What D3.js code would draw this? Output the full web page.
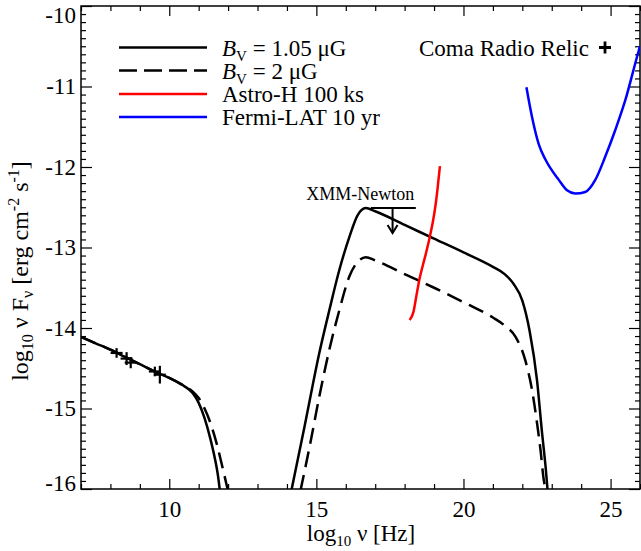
<!DOCTYPE html>
<html>
<head>
<meta charset="utf-8">
<script src="https://cdn.jsdelivr.net/npm/d3@7/dist/d3.min.js"></script>
<style>
  body { margin: 0; background: #fff; }
  svg { display: block; font-family: "Liberation Serif", "DejaVu Serif", serif; }
</style>
</head>
<body>
<svg id="chart" width="641" height="551"></svg>
<script>
// radio synchrotron part, B = 1.05 uG (solid)
var synSolidX = [7, 7.5, 8, 8.5, 9, 9.5, 10, 10.5, 10.8, 11.0, 11.2, 11.4, 11.55, 11.65, 11.72];
var synSolidY = [-14.11, -14.19, -14.27, -14.36, -14.45, -14.54, -14.62, -14.72, -14.81, -14.93, -15.12, -15.38, -15.62, -15.82, -16.02];

// radio synchrotron part, B = 2 uG (dashed)
var synDashX = [7, 7.5, 8, 8.5, 9, 9.5, 10, 10.5, 10.8, 11.0, 11.2, 11.4, 11.6, 11.75, 11.88, 12.0];
var synDashY = [-14.11, -14.19, -14.27, -14.36, -14.45, -14.54, -14.62, -14.72, -14.79, -14.87, -15.0, -15.18, -15.42, -15.64, -15.84, -16.03];

// inverse Compton part, B = 1.05 uG (solid)
var icSolidX = [14.15, 14.6, 15.1, 15.44, 15.78, 16.12, 16.4, 16.68, 17.0, 18.0, 19.0, 20.0, 21.0, 21.4, 21.7, 22.0, 22.25, 22.5, 22.67, 22.79, 22.86];
var icSolidY = [-16.02, -15.22, -14.31, -13.78, -13.28, -12.87, -12.6, -12.51, -12.55, -12.72, -12.89, -13.06, -13.24, -13.33, -13.45, -13.66, -14.04, -14.65, -15.3, -15.72, -16.02];

// inverse Compton part, B = 2 uG (dashed)
var icDashX = [14.46, 14.8, 15.1, 15.44, 15.78, 16.12, 16.4, 16.68, 17.0, 18.0, 19.0, 20.0, 21.0, 21.4, 21.77, 22.1, 22.33, 22.5, 22.62, 22.73, 22.8];
var icDashY = [-16.02, -15.42, -14.85, -14.27, -13.78, -13.36, -13.18, -13.12, -13.16, -13.33, -13.5, -13.68, -13.87, -13.97, -14.11, -14.4, -14.77, -15.18, -15.52, -15.89, -16.02];

// Astro-H 100 ks sensitivity
var astroX = [18.17, 18.3, 18.4, 18.5, 18.62, 18.74, 18.86, 18.96, 19.04, 19.1, 19.15, 19.2];
var astroY = [-13.9, -13.8, -13.6, -13.4, -13.22, -13.05, -12.86, -12.68, -12.5, -12.33, -12.16, -11.99];

// Fermi-LAT 10 yr sensitivity
var fermiX = [22.14, 22.33, 22.56, 22.79, 23.24, 23.52, 23.8, 24.14, 24.48, 24.82, 25.16, 25.5, 25.9, 26.0];
var fermiY = [-11.01, -11.38, -11.72, -11.91, -12.16, -12.29, -12.33, -12.31, -12.16, -11.87, -11.54, -11.17, -10.63, -10.5];

// Coma radio relic data points
var relicX = [8.21, 8.55, 8.69, 9.51, 9.68];
var relicY = [-14.31, -14.38, -14.43, -14.54, -14.58];
var relicErr = [0.06, 0.08, 0.07, 0.06, 0.11];

// XMM-Newton upper limit
var xmmX = [16.85, 18.38];
var xmmY = -12.51;
var xmmArrowX = 17.59;
var xmmArrowTip = -12.82;

// ticks
var xMajor = [10, 15, 20, 25];
var yMajor = [-16, -15, -14, -13, -12, -11, -10];

var svg = d3.select('#chart');

// plot box in pixels
var box = { left: 81, right: 640, top: 6, bottom: 489 };

var x = d3.scaleLinear().domain([7, 26]).range([box.left, box.right]);
var y = d3.scaleLinear().domain([-16, -10]).range([box.bottom, box.top]);

var xMinor = d3.range(7, 27, 1).filter(function (d) { return xMajor.indexOf(d) < 0; });
var yMinor = d3.range(-160, -99, 1).map(function (d) { return d / 10; })
  .filter(function (d) { return Math.abs(d - Math.round(d)) > 1e-6; });

// clip region for the curves
svg.append('clipPath')
  .attr('id', 'plotClip')
  .append('rect')
  .attr('x', box.left)
  .attr('y', box.top)
  .attr('width', box.right - box.left)
  .attr('height', box.bottom - box.top);

function fmt(d) { return String(d); }

function styleAxis(g) {
  g.select('.domain').remove();
  g.selectAll('line').attr('stroke', '#000').attr('stroke-width', 1.2);
  g.selectAll('text')
    .attr('fill', '#000')
    .style('font-family', '"Liberation Serif", serif')
    .style('font-size', '23px');
}

// bottom axis
svg.append('g')
  .attr('transform', 'translate(0,' + box.bottom + ')')
  .call(d3.axisBottom(x).tickValues(xMajor).tickSizeInner(-10).tickSizeOuter(0).tickPadding(12).tickFormat(fmt))
  .call(styleAxis);
svg.append('g')
  .attr('transform', 'translate(0,' + box.bottom + ')')
  .call(d3.axisBottom(x).tickValues(xMinor).tickSizeInner(-5).tickSizeOuter(0).tickFormat(''))
  .call(styleAxis);

// top axis
svg.append('g')
  .attr('transform', 'translate(0,' + box.top + ')')
  .call(d3.axisTop(x).tickValues(xMajor).tickSizeInner(-10).tickSizeOuter(0).tickFormat(''))
  .call(styleAxis);
svg.append('g')
  .attr('transform', 'translate(0,' + box.top + ')')
  .call(d3.axisTop(x).tickValues(xMinor).tickSizeInner(-5).tickSizeOuter(0).tickFormat(''))
  .call(styleAxis);

// left axis
var leftAxis = svg.append('g')
  .attr('transform', 'translate(' + box.left + ',0)')
  .call(d3.axisLeft(y).tickValues(yMajor).tickSizeInner(-11).tickSizeOuter(0).tickPadding(5).tickFormat(fmt))
  .call(styleAxis);
// the end labels sit a little inside the box
leftAxis.selectAll('text')
  .attr('dy', function (d) {
    if (d === -10) return '0.72em';
    if (d === -16) return '0.05em';
    return '0.32em';
  });
svg.append('g')
  .attr('transform', 'translate(' + box.left + ',0)')
  .call(d3.axisLeft(y).tickValues(yMinor).tickSizeInner(-5).tickSizeOuter(0).tickFormat(''))
  .call(styleAxis);

// right axis
svg.append('g')
  .attr('transform', 'translate(' + box.right + ',0)')
  .call(d3.axisRight(y).tickValues(yMajor).tickSizeInner(-11).tickSizeOuter(0).tickFormat(''))
  .call(styleAxis);
svg.append('g')
  .attr('transform', 'translate(' + box.right + ',0)')
  .call(d3.axisRight(y).tickValues(yMinor).tickSizeInner(-5).tickSizeOuter(0).tickFormat(''))
  .call(styleAxis);

// frame
svg.append('rect')
  .attr('x', box.left)
  .attr('y', box.top)
  .attr('width', box.right - box.left)
  .attr('height', box.bottom - box.top)
  .attr('fill', 'none')
  .attr('stroke', '#000')
  .attr('stroke-width', 1.5);

// curves
var line = d3.line()
  .x(function (d) { return x(d[0]); })
  .y(function (d) { return y(d[1]); })
  .curve(d3.curveMonotoneX);

var plot = svg.append('g').attr('clip-path', 'url(#plotClip)');

function drawCurve(xs, ys, color, dash) {
  var pts = xs.map(function (v, i) { return [v, ys[i]]; });
  plot.append('path')
    .datum(pts)
    .attr('d', line)
    .attr('fill', 'none')
    .attr('stroke', color)
    .attr('stroke-width', 2.5)
    .attr('stroke-dasharray', dash || null);
}

drawCurve(synDashX, synDashY, '#000', '16,8');
drawCurve(synSolidX, synSolidY, '#000');
drawCurve(icDashX, icDashY, '#000', '16,8');
drawCurve(icSolidX, icSolidY, '#000');
drawCurve(astroX, astroY, '#ff0000');
drawCurve(fermiX, fermiY, '#0000ff');

// relic data crosses
var crosses = plot.selectAll('g.relic')
  .data(relicX.map(function (v, i) { return { x: v, y: relicY[i], e: relicErr[i] }; }))
  .enter()
  .append('g')
  .classed('relic', true);

crosses.append('line')
  .attr('x1', function (d) { return x(d.x) - 6; })
  .attr('x2', function (d) { return x(d.x) + 6; })
  .attr('y1', function (d) { return y(d.y); })
  .attr('y2', function (d) { return y(d.y); })
  .attr('stroke', '#000')
  .attr('stroke-width', 2.2);

crosses.append('line')
  .attr('x1', function (d) { return x(d.x); })
  .attr('x2', function (d) { return x(d.x); })
  .attr('y1', function (d) { return y(d.y + d.e); })
  .attr('y2', function (d) { return y(d.y - d.e); })
  .attr('stroke', '#000')
  .attr('stroke-width', 2.2);

// XMM-Newton upper limit
svg.append('line')
  .attr('x1', x(xmmX[0]))
  .attr('x2', x(xmmX[1]))
  .attr('y1', y(xmmY))
  .attr('y2', y(xmmY))
  .attr('stroke', '#000')
  .attr('stroke-width', 2);
svg.append('line')
  .attr('x1', x(xmmArrowX))
  .attr('x2', x(xmmArrowX))
  .attr('y1', y(xmmY))
  .attr('y2', y(xmmArrowTip))
  .attr('stroke', '#000')
  .attr('stroke-width', 2);
svg.append('path')
  .attr('d', 'M' + (x(xmmArrowX) - 5) + ',' + (y(xmmArrowTip) - 8) +
    'L' + x(xmmArrowX) + ',' + y(xmmArrowTip) +
    'L' + (x(xmmArrowX) + 5) + ',' + (y(xmmArrowTip) - 8))
  .attr('fill', 'none')
  .attr('stroke', '#000')
  .attr('stroke-width', 2);
svg.append('text')
  .attr('x', (x(xmmX[0]) + x(xmmX[1])) / 2 - 33)
  .attr('y', y(xmmY) - 8)
  .attr('text-anchor', 'middle')
  .style('font-size', '18px')
  .text('XMM-Newton');

// legend
var legendLabels = ['B1', 'B2', 'Astro-H 100 ks', 'Fermi-LAT 10 yr'];
var legendColors = ['#000', '#000', '#ff0000', '#0000ff'];
var legendDash = [null, '18,7', null, null];
var legendY = [47.5, 70.5, 94, 117];

legendLabels.forEach(function (label, i) {
  svg.append('line')
    .attr('x1', 119)
    .attr('x2', 207)
    .attr('y1', legendY[i])
    .attr('y2', legendY[i])
    .attr('stroke', legendColors[i])
    .attr('stroke-width', 2.5)
    .attr('stroke-dasharray', legendDash[i]);

  var t = svg.append('text')
    .attr('x', 222)
    .attr('y', legendY[i] + 8)
    .style('font-size', '23px');

  if (label === 'B1' || label === 'B2') {
    t.append('tspan').style('font-style', 'italic').text('B');
    t.append('tspan').attr('dy', 5).style('font-size', '15px').text('V');
    t.append('tspan').attr('dy', -5).text(label === 'B1' ? ' = 1.05 \u03BCG' : ' = 2 \u03BCG');
  } else {
    t.text(label);
  }
});

// Coma radio relic legend entry
svg.append('text')
  .attr('x', 419)
  .attr('y', 55.5)
  .style('font-size', '23px')
  .text('Coma Radio Relic');
svg.append('path')
  .attr('d', 'M599,47.5H611M605,41.5V53.5')
  .attr('stroke', '#000')
  .attr('stroke-width', 2.8);

// x axis title
var xt = svg.append('text')
  .attr('x', 361)
  .attr('y', 541)
  .attr('text-anchor', 'middle')
  .style('font-size', '23px');
xt.append('tspan').text('log');
xt.append('tspan').attr('dy', 5).style('font-size', '15px').text('10');
xt.append('tspan').attr('dy', -5).text(' \u03BD [Hz]');

// y axis title
var yt = svg.append('text')
  .attr('transform', 'translate(28,271) rotate(-90)')
  .attr('text-anchor', 'middle')
  .style('font-size', '24px');
yt.append('tspan').text('log');
yt.append('tspan').attr('dy', 5).style('font-size', '16px').text('10');
yt.append('tspan').attr('dy', -5).text(' \u03BD F');
yt.append('tspan').attr('dy', 5).style('font-size', '16px').text('\u03BD');
yt.append('tspan').attr('dy', -5).text(' [erg cm');
yt.append('tspan').attr('dy', -9).style('font-size', '16px').text('-2');
yt.append('tspan').attr('dy', 9).text(' s');
yt.append('tspan').attr('dy', -9).style('font-size', '16px').text('-1');
yt.append('tspan').attr('dy', 9).text(']');
</script>
</body>
</html>
